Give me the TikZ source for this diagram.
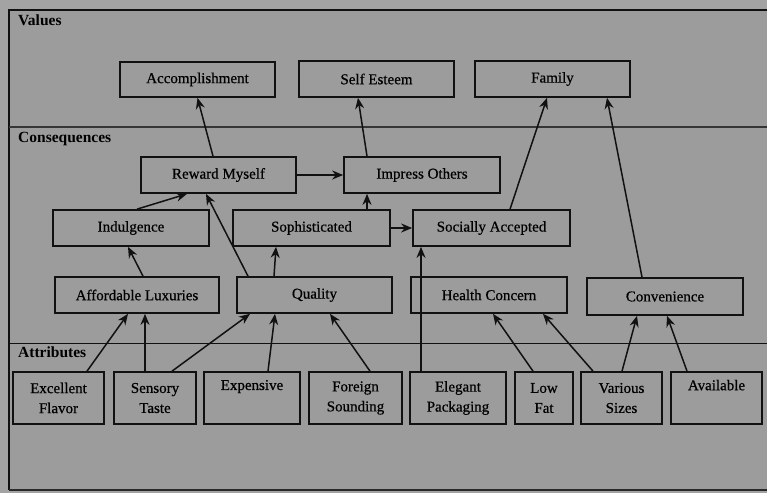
\documentclass[tikz,border=0pt]{standalone}
\usepackage{fontspec}
\setmainfont{Liberation Serif}
\newfontfamily\boxfont[FakeBold=0.6]{Liberation Serif}
\usetikzlibrary{arrows.meta}
\definecolor{bgout}{HTML}{A3A3A3}
\definecolor{bgin}{HTML}{9C9C9C}
\definecolor{ink}{HTML}{111111}
\tikzset{
  box/.style={draw=ink, line width=1.7pt, fill=bgin, inner sep=0pt, align=center,
    font=\boxfont\fontsize{15}{20}\selectfont, text=black},
  vbox/.style={box, minimum height=36pt},
  abox/.style={box, minimum height=52pt},
  arr/.style={draw=ink, line width=1.5pt, -{Stealth[length=11pt,width=9pt]}},
  lab/.style={anchor=north west, inner sep=0pt, font=\fontsize{15.5}{18}\selectfont\bfseries, text=black}
}
\begin{document}
\begin{tikzpicture}[x=1pt,y=-1pt]
\useasboundingbox (0,0) rectangle (767,493);
\fill[bgout] (0,0) rectangle (767,493);
\fill[bgin] (9,10) rectangle (767,490);
\draw[ink, line width=1.5pt] (9,490) -- (9,10) -- (767,10);
\draw[ink!90, line width=2pt] (9,490) -- (767,490);
\draw[ink!85, line width=2.6pt] (9,127) -- (767,127);
\draw[ink, line width=1pt] (9,343) -- (767,343);
\node[lab] (lv) at (18,15) {Values};
\node[lab] (lc) at (18,132) {Consequences};
\node[lab] (la) at (18,347) {Attributes};
% values
\node[vbox, minimum width=155pt, minimum height=35pt] (acc) at (197.5,79.5) {Accomplishment};
\node[vbox, minimum width=155pt] (self) at (376.5,79) {Self Esteem};
\node[vbox, minimum width=155pt] (fam) at (552.5,79) {Family};
% consequences
\node[vbox, minimum width=155pt] (rew) at (218.5,175) {Reward Myself};
\node[vbox, minimum width=156pt] (imp) at (422,175) {Impress Others};
\node[vbox, minimum width=156pt] (ind) at (131,228) {Indulgence};
\node[vbox, minimum width=157pt] (soph) at (311.5,228) {Sophisticated};
\node[vbox, minimum width=157pt] (soc) at (491.5,228) {Socially Accepted};
\node[vbox, minimum width=164pt] (aff) at (137,295) {Affordable Luxuries};
\node[vbox, minimum width=155pt] (qual) at (314.5,295) {Quality};
\node[vbox, minimum width=156pt] (hea) at (489,295) {Health Concern};
\node[vbox, minimum width=156pt, minimum height=37pt] (conv) at (665,296.5) {Convenience};
% attributes
\node[abox, minimum width=91pt] (exc) at (58.5,398) {Excellent\\Flavor};
\node[abox, minimum width=82pt] (sen) at (155,398) {Sensory\\Taste};
\node[abox, minimum width=96pt] (exp) at (252,398) {Expensive\\\strut};
\node[abox, minimum width=93pt] (for) at (355.5,398) {Foreign\\Sounding};
\node[abox, minimum width=96pt] (ele) at (458,398) {Elegant\\Packaging};
\node[abox, minimum width=58pt] (low) at (544,398) {Low\\Fat};
\node[abox, minimum width=81pt] (var) at (621.5,398) {Various\\Sizes};
\node[abox, minimum width=91pt] (ava) at (716.5,398) {Available\\\strut};
% connectors
\draw[arr] ([xshift=-5.5pt]rew.north) -- (acc.south);
\draw[arr] ([xshift=-55pt]imp.north) -- ([xshift=-18.5pt]self.south);
\draw[arr] ([xshift=18.5pt]soc.north) -- ([xshift=-5.5pt]fam.south);
\draw[arr] ([xshift=-23pt]conv.north) -- ([xshift=54.5pt]fam.south);
\draw[arr] (rew.east) -- (imp.west);
\draw[arr] ([xshift=6pt]ind.north) -- ([xshift=-31.5pt]rew.south);
\draw[arr] ([xshift=-66.5pt]qual.north) -- ([xshift=-12.5pt]rew.south);
\draw[arr] ([xshift=55.5pt]soph.north) -- ([xshift=-55pt]imp.south);
\draw[arr] (soph.east) -- (soc.west);
\draw[arr] ([xshift=-37pt]ele.north) -- ([xshift=-70.5pt]soc.south);
\draw[arr] ([xshift=6pt]aff.north) -- ([xshift=-3pt]ind.south);
\draw[arr] ([xshift=-40.5pt]qual.north) -- ([xshift=-35.5pt]soph.south);
\draw[arr] ([xshift=28.5pt]exc.north) -- ([xshift=-9pt]aff.south);
\draw[arr] ([xshift=-10pt]sen.north) -- ([xshift=8pt]aff.south);
\draw[arr] ([xshift=17pt]sen.north) -- ([xshift=-64.5pt]qual.south);
\draw[arr] ([xshift=16pt]exp.north) -- ([xshift=-39.5pt]qual.south);
\draw[arr] ([xshift=14.5pt]for.north) -- ([xshift=15.5pt]qual.south);
\draw[arr] ([xshift=-11pt]low.north) -- ([xshift=4pt]hea.south);
\draw[arr] ([xshift=-28.5pt]var.north) -- ([xshift=54pt]hea.south);
\draw[arr] ([xshift=0.5pt]var.north) -- ([xshift=-28pt]conv.south);
\draw[arr] ([xshift=-29.5pt]ava.north) -- ([xshift=2pt]conv.south);
\end{tikzpicture}
\end{document}
